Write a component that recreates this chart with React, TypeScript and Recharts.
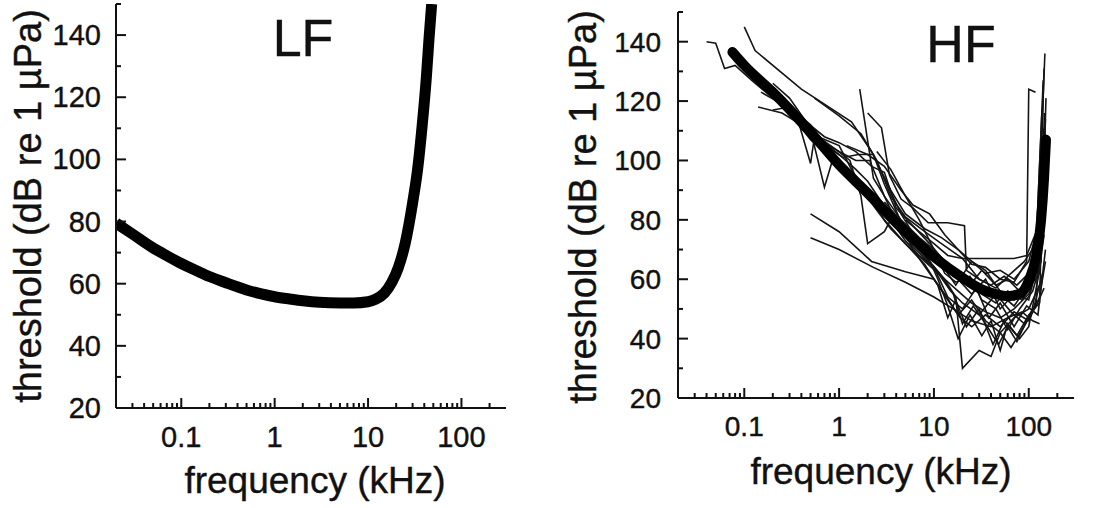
import { LineChart, Line, XAxis, YAxis, Label } from "recharts";

const FONT = '"Liberation Sans", Arial, sans-serif';
const INK = "#111";

// axis ticks (log x axis in kHz, threshold in dB)
const xTicks = [
  0.03, 0.04, 0.05, 0.06, 0.07, 0.08, 0.09, 0.1, 0.2, 0.3, 0.4, 0.5, 0.6, 0.7, 0.8, 0.9, 1, 2, 3, 4, 5,
  6, 7, 8, 9, 10, 20, 30, 40, 50, 60, 70, 80, 90, 100, 200,
];
const xMajor = [0.1, 1, 10, 100];
const yTicks = [20, 30, 40, 50, 60, 70, 80, 90, 100, 110, 120, 130, 140, 150];
const yMajor = [20, 40, 60, 80, 100, 120, 140];

// LF composite curve
const lfFreq = [0.02, 0.03, 0.05, 0.07, 0.1, 0.15, 0.2, 0.3, 0.5, 0.7, 1, 1.5, 2, 3, 5, 7, 10, 12, 15, 18, 21, 25, 30, 34, 38, 42, 45, 48];
const lfThreshold = [79.5, 76, 71.5, 69, 66.5, 64, 62.3, 60.3, 58, 56.8, 55.8, 55, 54.5, 54, 53.8, 53.8, 54.2, 55, 57, 60.5, 65, 73, 86, 97, 111, 126, 139, 150];

// HF composite curve
const hfFreq = [0.075, 0.1, 0.2, 0.5, 1, 2, 5, 10, 20, 30, 45, 60, 80, 100, 120, 135, 145, 152];
const hfThreshold = [136.5, 132, 123, 109.5, 98.5, 89, 76, 67.5, 60.5, 57, 55, 54.3, 55, 59.5, 68, 80, 94, 107];

// individual HF audiograms [kHz, dB]
const s01 = [[0.04, 140], [0.05, 139.5], [0.062, 131], [0.08, 132], [0.12, 127], [0.2, 121], [0.3, 116], [0.5, 107], [0.8, 101], [1.2, 96], [2, 89], [3, 80], [5, 72], [8, 66], [12, 61], [18, 56], [25, 52], [35, 49], [50, 47], [70, 50], [100, 55], [125, 64], [145, 131]];
const s02 = [[0.1, 145], [0.13, 137], [0.4, 124], [1.35, 113], [2.2, 103], [3.5, 90], [5, 82], [8, 77], [12, 74], [18, 70], [25, 66], [35, 62], [50, 63], [70, 60], [100, 66], [125, 78], [148, 136]];
const s03 = [[0.55, 121], [1, 115], [1.7, 109], [2.5, 100], [3.5, 88], [5, 81], [8, 76], [12, 72], [20, 67], [30, 60], [45, 57], [65, 62], [90, 66], [120, 72], [142, 127]];
const s04 = [[1.65, 124], [2.3, 94], [3, 88], [4.5, 80], [7, 74], [10, 70], [15, 64], [22, 60], [32, 55], [45, 52], [60, 56], [85, 53], [115, 60], [138, 117]];
const s05 = [[2, 116], [2.8, 111], [3.4, 95], [4.5, 87], [6, 84], [8.7, 79], [14, 79], [21, 78], [22, 63], [30, 60], [40, 58], [55, 61], [75, 58], [100, 62], [125, 70], [145, 111]];
const s06 = [[0.1, 131], [0.15, 126], [0.22, 123], [0.35, 116], [0.5, 99], [0.55, 108], [0.8, 104], [1.1, 101], [1.6, 102], [2.3, 102], [3, 92], [4, 83], [6, 70], [9, 62], [13, 55], [18, 48], [25, 53], [35, 46], [50, 42], [70, 47], [100, 50], [130, 58]];
const s07 = [[0.14, 118], [0.25, 116], [0.4, 112], [0.6, 107], [1, 103], [1.5, 100], [2.1, 100], [3, 88], [4.5, 76], [6, 71], [10, 64], [15, 56], [20, 52], [30, 48], [45, 55], [65, 49], [90, 45], [120, 52], [142, 125]];
const s08 = [[0.1, 133], [0.17, 124], [0.28, 117], [0.42, 110], [0.52, 108], [0.7, 91], [0.85, 100], [1.1, 98], [1.6, 92], [2.4, 84], [3.5, 77], [5, 72], [8, 65], [11, 58], [14, 47], [17, 53], [22, 44], [30, 50], [42, 38], [55, 46], [75, 41], [100, 48], [130, 52], [146, 116]];
const s09 = [[0.15, 123], [0.25, 119], [0.4, 113], [0.6, 108], [0.9, 104], [1.3, 100], [1.7, 88], [2, 72], [3, 76], [3.5, 80], [5, 73], [7, 68], [10, 64], [14, 54], [20, 50], [28, 57], [38, 47], [50, 52], [70, 44], [95, 51], [125, 48], [150, 70]];
const s10 = [[0.2, 126], [0.3, 121], [0.45, 113], [0.7, 108], [1, 106], [1.5, 103], [2.2, 98], [3, 96], [4, 84], [6, 78], [9, 72], [13, 66], [18, 60], [25, 55], [35, 60], [50, 50], [70, 55], [100, 53], [130, 68]];
const s11 = [[0.5, 82], [1, 76], [2.2, 66], [5, 62.5], [10, 60], [14, 53], [19, 47], [25, 44], [35, 48], [50, 44], [70, 49], [100, 46], [130, 54], [150, 66]];
const s12 = [[0.5, 74], [1, 70], [2.3, 64], [5, 59], [10, 54], [16, 50], [25, 46], [40, 44], [60, 47], [85, 49], [110, 46], [130, 45]];
const s13 = [[3, 86], [5, 78], [8, 70], [11, 60], [14, 51], [18, 40], [24, 48], [32, 41], [40, 46], [50, 36], [60, 45], [80, 40], [100, 44], [125, 60], [145, 75]];
const s14 = [[4, 82], [6, 74], [9, 66], [13, 60], [17, 54], [20, 30], [30, 36], [40, 34], [50, 42], [65, 37], [85, 43], [110, 49], [140, 62]];
const s15 = [[5, 80], [7, 76], [10, 72], [14, 68], [20, 67], [30, 67], [40, 67], [55, 67], [70, 67], [95, 68], [120, 76], [150, 84]];
const s16 = [[3, 94], [4.5, 82], [7, 72], [11, 66], [16, 61], [24, 58], [32, 63], [45, 58], [60, 60], [80, 56], [110, 63], [140, 78]];
const s17 = [[2.5, 103], [3.5, 97], [5, 88], [7, 80], [10, 70], [13, 62], [17, 59], [24, 61], [32, 53], [45, 50], [60, 43], [80, 50], [110, 56], [135, 66], [152, 121]];
const s18 = [[1.2, 105], [2, 102], [3, 98], [4.5, 90], [6, 85], [9, 82], [13, 75], [18, 70], [25, 65], [35, 64], [50, 60], [70, 59], [95, 66], [100, 124], [118, 123]];
const s19 = [[0.3, 118], [0.6, 108], [1, 105], [1.4, 96], [2, 90], [3, 82], [5, 77], [8, 70], [12, 65], [17, 58], [25, 66], [35, 63], [50, 56], [70, 53], [100, 57], [130, 62], [150, 114]];
const s20 = [[6, 72], [9, 66], [12, 61], [16, 55], [20, 45], [26, 51], [35, 45], [48, 38], [60, 44], [75, 39], [95, 46], [120, 51], [145, 57]];
const s21 = [[0.2, 117], [0.3, 118], [0.5, 112], [0.7, 106], [1, 102], [1.5, 97], [2, 93], [2.8, 86], [4, 78], [6, 73], [9, 70], [13, 66], [18, 61], [26, 59], [36, 55], [50, 55], [70, 51], [100, 58], [130, 73], [150, 109]];
const hfSubjects = [s01, s02, s03, s04, s05, s06, s07, s08, s09, s10, s11, s12, s13, s14, s15, s16, s17, s18, s19, s20, s21];

const toRows = (freq: number[], vals: number[]) => freq.map((f, i) => ({ f, v: vals[i] }));
const pairRows = (pairs: number[][]) => pairs.map(([f, v]) => ({ f, v }));

interface PanelCfg {
  left: number;
  width: number;
  plotLeft: number; // y axis width
  plotTop: number;
  plotRight: number;
  plotBottom: number; // x axis height
  tickFont: number;
  yLabelGap: number;
  xLabelDy: number;
  yTitle: { x: number; y: number };
  xTitle: { x: number; y: number };
  title: { text: string; x: number; y: number };
}

const HEIGHT = 508;
// the scanned figure has slightly heavy glyphs
const textInk = { fill: INK, stroke: INK, strokeWidth: 0.4, fontFamily: FONT };

function makeXTick(cfg: PanelCfg) {
  return (props: any) => {
    const { x, y, payload } = props;
    const major = xMajor.includes(payload.value);
    return (
      <g>
        <line x1={x} x2={x} y1={y} y2={y - (major ? 10 : 5)} stroke={INK} strokeWidth={2} />
        {major && (
          <text x={x} y={y + cfg.xLabelDy} textAnchor="middle" fontSize={cfg.tickFont} {...textInk}>
            {String(payload.value)}
          </text>
        )}
      </g>
    );
  };
}

function makeYTick(cfg: PanelCfg) {
  return (props: any) => {
    const { x, y, payload } = props;
    const major = yMajor.includes(payload.value);
    return (
      <g>
        <line x1={x} x2={x + (major ? 10 : 5)} y1={y} y2={y} stroke={INK} strokeWidth={2} />
        {major && (
          <text x={x - cfg.yLabelGap} y={y + 10} textAnchor="end" fontSize={cfg.tickFont} {...textInk}>
            {payload.value}
          </text>
        )}
      </g>
    );
  };
}

function Panel({ cfg, children }: { cfg: PanelCfg; children: React.ReactNode }) {
  return (
    <div style={{ position: "absolute", left: cfg.left, top: 0 }}>
      <LineChart
        width={cfg.width}
        height={HEIGHT}
        margin={{ top: cfg.plotTop, right: cfg.plotRight, bottom: 0, left: 0 }}
        style={{ overflow: "visible" }}
      >
        <XAxis
          dataKey="f"
          type="number"
          scale="log"
          domain={[0.02, 300]}
          allowDataOverflow
          ticks={xTicks}
          interval={0}
          height={cfg.plotBottom}
          tickSize={0}
          tickMargin={0}
          tickLine={false}
          axisLine={{ stroke: INK, strokeWidth: 2 }}
          tick={makeXTick(cfg)}
        >
          <Label
            content={() => (
              <text x={cfg.xTitle.x} y={cfg.xTitle.y} textAnchor="middle" fontSize={37} {...textInk}>
                frequency (kHz)
              </text>
            )}
          />
        </XAxis>
        <YAxis
          dataKey="v"
          type="number"
          domain={[20, 150]}
          allowDataOverflow
          ticks={yTicks}
          interval={0}
          width={cfg.plotLeft}
          tickSize={0}
          tickMargin={0}
          tickLine={false}
          axisLine={{ stroke: INK, strokeWidth: 2 }}
          tick={makeYTick(cfg)}
        >
          <Label
            content={() => (
              <g>
                <text
                  transform={`translate(${cfg.yTitle.x},${cfg.yTitle.y}) rotate(-90)`}
                  textAnchor="middle"
                  fontSize={38}
                  {...textInk}
                >
                  threshold (dB re 1 µPa)
                </text>
                <text x={cfg.title.x} y={cfg.title.y} textAnchor="middle" fontSize={52} {...textInk}>
                  {cfg.title.text}
                </text>
              </g>
            )}
          />
        </YAxis>
        {children}
      </LineChart>
    </div>
  );
}

const lfCfg: PanelCfg = {
  left: 0,
  width: 540,
  plotLeft: 116,
  plotTop: 4,
  plotRight: 34,
  plotBottom: 100,
  tickFont: 29,
  yLabelGap: 15,
  xLabelDy: 39,
  yTitle: { x: 41, y: 206 },
  xTitle: { x: 315, y: 493 },
  title: { text: "LF", x: 303, y: 56 },
};

const hfCfg: PanelCfg = {
  left: 560,
  width: 538,
  plotLeft: 118,
  plotTop: 12,
  plotRight: 24,
  plotBottom: 110,
  tickFont: 28,
  yLabelGap: 17,
  xLabelDy: 38,
  yTitle: { x: 36, y: 207 },
  xTitle: { x: 321, y: 484 },
  title: { text: "HF", x: 401, y: 62 },
};

export default function App() {
  return (
    <div style={{ position: "absolute", left: 0, top: 0, width: 1098, height: HEIGHT, background: "#fff" }}>
      <Panel cfg={lfCfg}>
        <Line
          data={toRows(lfFreq, lfThreshold)}
          dataKey="v"
          type="monotone"
          stroke="#000"
          strokeWidth={11}
          dot={false}
          activeDot={false}
          isAnimationActive={false}
        />
      </Panel>
      <Panel cfg={hfCfg}>
        {hfSubjects.map((s, i) => (
          <Line
            key={i}
            data={pairRows(s)}
            dataKey="v"
            type="linear"
            stroke="#151515"
            strokeWidth={1.6}
            dot={false}
            activeDot={false}
            isAnimationActive={false}
          />
        ))}
        <Line
          data={toRows(hfFreq, hfThreshold)}
          dataKey="v"
          type="monotone"
          stroke="#000"
          strokeWidth={10}
          strokeLinecap="round"
          dot={false}
          activeDot={false}
          isAnimationActive={false}
        />
      </Panel>
    </div>
  );
}
